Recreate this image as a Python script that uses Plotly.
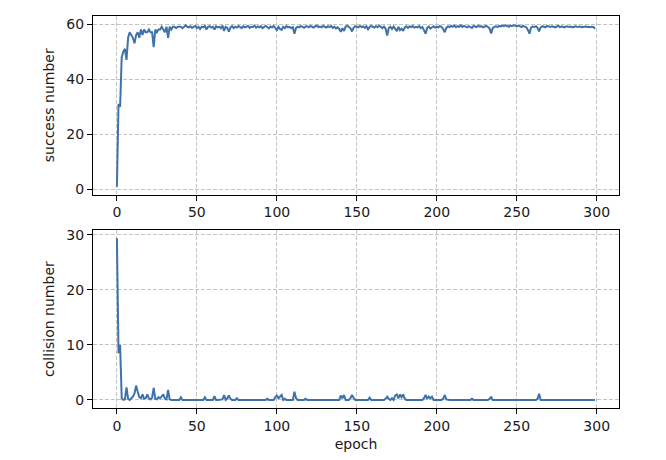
import plotly.graph_objects as go
from plotly.subplots import make_subplots

epochs = list(range(300))

success = [
    1, 31, 30, 48, 50, 51, 47, 55, 57, 56,
    55, 53, 56, 57, 55, 58, 56, 58, 57, 57,
    58, 57, 57, 51.6, 58, 57, 58, 58, 59, 58,
    57, 59, 55, 59, 58, 59, 59, 58.5, 59, 59,
    59, 58.5, 59, 59.5, 59, 58.8, 59.2, 58.6, 59, 59.3,
    58.5, 59, 58.2, 59, 58.8, 59.3, 58, 59, 59.2, 58.7,
    59, 58, 59.2, 58.8, 59, 58.5, 59.4, 57.5, 59, 58.6,
    57.2, 58.8, 59.2, 58.5, 59, 58.7, 59.3, 58.9, 58.5, 59.2,
    58.8, 59, 59.3, 58.6, 59, 58.9, 59.4, 58.7, 59.1, 58.8,
    59.2, 58.5, 59, 59.3, 58.9, 58.4, 59.1, 58.8, 59.3, 58.6,
    57.8, 59, 58.2, 57.9, 59, 58.5, 59.2, 58.8, 59, 58.5,
    58.9, 56.5, 58.6, 59, 58.8, 59.3, 58.9, 58.6, 59.1, 59.2,
    58.8, 59.3, 59, 58.7, 59.2, 59.4, 58.9, 59.1, 58.8, 59.3,
    59, 58.7, 59.2, 58.9, 59.3, 58.6, 59, 58.4, 58.8, 58.2,
    57.2, 58.5, 57.5, 59, 59.4, 59, 58.5, 57.3, 58.6, 59.2,
    59, 58.8, 59.3, 58.9, 59.1, 58.6, 59.2, 58.1, 58.9, 59.3,
    59, 58.7, 59.2, 58.8, 59.4, 58.9, 58.5, 59.1, 58.3, 55.8,
    58.5, 59, 58.2, 59.1, 58, 57.4, 59, 57.8, 58.3, 57.5,
    58.8, 59.2, 58.6, 59.1, 58.9, 59.3, 58.7, 59, 58.8, 59.2,
    58.5, 58.9, 57.8, 56.5, 58.6, 59.1, 58.3, 58.9, 59.2, 58.7,
    59, 58.8, 59.3, 58.9, 58.2, 57, 58.6, 59.1, 58.9, 59.3,
    59, 59.4, 58.8, 59.2, 59, 59.5, 58.9, 59.3, 59.1, 58.8,
    59.2, 59, 58.6, 59.3, 59.1, 58.9, 59.4, 59, 59.2, 58.8,
    59.1, 59.3, 58.9, 58.4, 56.6, 58.5, 59, 59.2, 58.9, 59.3,
    59.1, 59.4, 59.2, 59.5, 59.3, 59, 59.4, 59.2, 59.6, 59.3,
    59.1, 59.4, 59.2, 58.9, 59.3, 59.1, 58.8, 57.8, 56.5, 58.8,
    59.1, 58.9, 59.2, 58.6, 57.3, 58.8, 59.2, 59, 58.8, 59.3,
    59.1, 58.9, 59.2, 59, 58.8, 59.1, 59.3, 58.9, 59.1, 59,
    58.8, 59.2, 59, 58.9, 59.1, 58.8, 59, 59.2, 58.9, 59.1,
    59, 58.8, 59, 59.1, 58.9, 59, 58.8, 59, 58.9, 58.3,
]

collision = [
    29.4, 8.5, 10, 0.3, 0, 0.1, 2.3, 0.2, 0, 0.3,
    0.6, 1.2, 2.6, 1.5, 0.5, 0.3, 1.0, 0.2, 0.3, 1.0,
    0.3, 0.1, 0.4, 2.2, 0.2, 0.1, 0.5, 0.3, 0.6, 1.0,
    0.2, 0.1, 1.8, 0.1, 0, 0, 0.1, 0, 0, 0,
    0.5, 0, 0, 0, 0, 0, 0, 0, 0, 0,
    0, 0, 0.1, 0, 0, 0.5, 0, 0, 0, 0,
    0, 0.7, 0, 0, 0, 0, 0.1, 0.9, 0, 0.3,
    0.8, 0.2, 0, 0, 0, 0.3, 0, 0, 0, 0,
    0, 0, 0, 0, 0, 0, 0, 0, 0, 0,
    0, 0, 0, 0, 0.2, 0, 0, 0, 0, 0.5,
    0.8, 0.3, 0.7, 0.9, 0, 0.2, 0, 0, 0, 0,
    0, 1.5, 0.3, 0, 0, 0, 0, 0, 0.2, 0,
    0, 0, 0, 0, 0, 0, 0, 0, 0, 0,
    0, 0, 0, 0, 0, 0, 0, 0, 0, 0,
    0.8, 0.3, 0.9, 0, 0, 0, 0.3, 0.9, 0.4, 0,
    0, 0, 0, 0, 0, 0, 0, 0, 0.4, 0,
    0, 0, 0, 0, 0, 0, 0, 0, 0.2, 0.6,
    0.2, 0, 0.3, 0, 0.8, 1.0, 0.3, 1.0, 0.5, 1.0,
    0.2, 0, 0, 0, 0, 0, 0, 0, 0, 0,
    0, 0, 0.3, 0.9, 0.2, 0.6, 0.3, 0.6, 0, 0,
    0, 0, 0, 0, 0.2, 0.9, 0.1, 0, 0, 0,
    0, 0, 0, 0, 0, 0, 0, 0, 0, 0,
    0, 0, 0.2, 0, 0, 0, 0, 0, 0, 0,
    0, 0, 0, 0.2, 0.5, 0, 0, 0, 0, 0,
    0, 0, 0, 0, 0, 0, 0, 0, 0, 0,
    0, 0, 0, 0, 0, 0, 0, 0, 0, 0,
    0, 0, 0, 0.2, 1.1, 0, 0, 0, 0, 0,
    0, 0, 0, 0, 0, 0, 0, 0, 0, 0,
    0, 0, 0, 0, 0, 0, 0, 0, 0, 0,
    0, 0, 0, 0, 0, 0, 0, 0, 0, 0,
]

x_ticks = [0, 50, 100, 150, 200, 250, 300]
success_ticks = [0, 20, 40, 60]
collision_ticks = [0, 10, 20, 30]

LINE = "#3f72a8"
FONT = dict(family="DejaVu Sans", size=14, color="#1a1a1a")

fig = make_subplots(rows=2, cols=1)
fig.add_trace(go.Scatter(x=epochs, y=success, mode="lines",
                         line=dict(color=LINE, width=2), showlegend=False), row=1, col=1)
fig.add_trace(go.Scatter(x=epochs, y=collision, mode="lines",
                         line=dict(color=LINE, width=2), showlegend=False), row=2, col=1)

axis_common = dict(
    showline=True, mirror=True, linecolor="black", linewidth=1,
    ticks="outside", ticklen=5, tickwidth=1, tickcolor="black",
    showgrid=True, gridcolor="#c4c4c4", griddash="4px,2px", gridwidth=1,
    zeroline=False, tickfont=FONT, automargin=False,
)

fig.update_xaxes(**axis_common, range=[-14.95, 313.95], tickvals=x_ticks)
fig.update_yaxes(**axis_common)
fig.update_yaxes(range=[-1.8, 62.9], tickvals=success_ticks, domain=[0.5445, 1.0],
                 title=dict(text="success number", font=FONT, standoff=8), row=1, col=1)
fig.update_yaxes(range=[-1.47, 30.87], tickvals=collision_ticks, domain=[0.0, 0.4537],
                 title=dict(text="collision number", font=FONT, standoff=8), row=2, col=1)
fig.update_xaxes(title=dict(text="epoch", font=FONT, standoff=6), row=2, col=1)

# the page body adds an 8px margin, so the figure is sized to fit inside it
fig.update_layout(
    width=650, height=444,
    margin=dict(l=85, r=39, t=8, b=44),
    plot_bgcolor="white", paper_bgcolor="white",
    font=FONT,
)

fig.write_html("out.html")
